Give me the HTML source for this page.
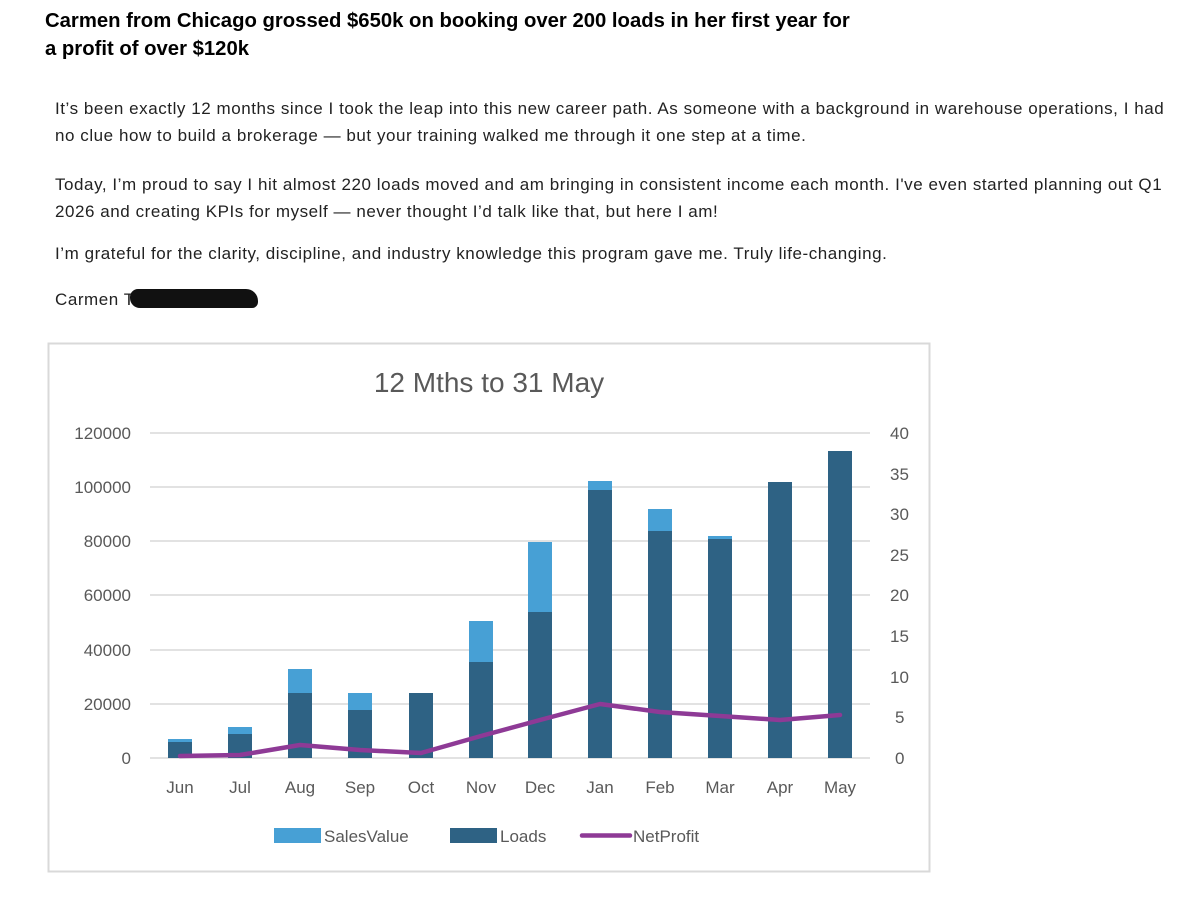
<!DOCTYPE html>
<html><head><meta charset="utf-8"><style>
body{margin:0;width:1200px;height:920px;background:#fff;font-family:"Liberation Sans",Arial,sans-serif;position:relative;overflow:hidden}
.h{position:absolute;left:45px;top:7px;font-weight:bold;font-size:20.3px;line-height:28px;color:#000}
.p{position:absolute;left:55px;font-size:17px;letter-spacing:0.55px;line-height:27px;color:#222;white-space:nowrap}
</style></head><body>
<div class="h">Carmen from Chicago grossed $650k on booking over 200 loads in her first year for<br>a profit of over $120k</div>
<div class="p" style="top:95px">It’s been exactly 12 months since I took the leap into this new career path. As someone with a background in warehouse operations, I had<br>no clue how to build a brokerage — but your training walked me through it one step at a time.</div>
<div class="p" style="top:171px">Today, I’m proud to say I hit almost 220 loads moved and am bringing in consistent income each month. I've even started planning out Q1<br>2026 and creating KPIs for myself — never thought I’d talk like that, but here I am!</div>
<div class="p" style="top:240px">I’m grateful for the clarity, discipline, and industry knowledge this program gave me. Truly life-changing.</div>
<div class="p" style="top:286px">Carmen T</div>
<div style="position:absolute;left:130px;top:289px;width:128px;height:19px;background:#111;border-radius:8px 12px 6px 10px"></div>
<svg style="position:absolute;left:0;top:0" width="1200" height="920" font-family="Liberation Sans, sans-serif">
<rect x="48.5" y="343.5" width="881" height="528" fill="#fff" stroke="#d9d9d9" stroke-width="2"/>
<text x="489" y="392" text-anchor="middle" font-size="28" fill="#595959">12 Mths to 31 May</text>
<g stroke="#d9d9d9" stroke-width="1.5">
<line x1="150" x2="870" y1="433" y2="433"/><line x1="150" x2="870" y1="487" y2="487"/><line x1="150" x2="870" y1="541" y2="541"/><line x1="150" x2="870" y1="595" y2="595"/><line x1="150" x2="870" y1="650" y2="650"/><line x1="150" x2="870" y1="704" y2="704"/><line x1="150" x2="870" y1="758" y2="758"/>
</g>
<g font-size="17" fill="#595959" text-anchor="end">
<text x="131" y="439">120000</text><text x="131" y="493">100000</text><text x="131" y="547">80000</text><text x="131" y="601">60000</text><text x="131" y="656">40000</text><text x="131" y="710">20000</text><text x="131" y="764">0</text>
</g>
<g font-size="17" fill="#595959" text-anchor="start">
<text x="890" y="439">40</text><text x="890" y="480">35</text><text x="890" y="520">30</text><text x="890" y="561">25</text><text x="890" y="601">20</text><text x="890" y="642">15</text><text x="890" y="683">10</text><text x="895" y="723">5</text><text x="895" y="764">0</text>
</g>
<g fill="#47a0d5">
<rect x="168" y="739" width="24" height="19"/><rect x="228" y="727" width="24" height="31"/><rect x="288" y="669" width="24" height="89"/><rect x="348" y="693" width="24" height="65"/><rect x="469" y="621" width="24" height="137"/><rect x="528" y="542" width="24" height="216"/><rect x="588" y="481" width="24" height="277"/><rect x="648" y="509" width="24" height="249"/><rect x="708" y="536" width="24" height="222"/>
</g>
<g fill="#2e6284">
<rect x="168" y="742" width="24" height="16"/><rect x="228" y="734" width="24" height="24"/><rect x="288" y="693" width="24" height="65"/><rect x="348" y="710" width="24" height="48"/><rect x="409" y="693" width="24" height="65"/><rect x="469" y="662" width="24" height="96"/><rect x="528" y="612" width="24" height="146"/><rect x="588" y="490" width="24" height="268"/><rect x="648" y="531" width="24" height="227"/><rect x="708" y="539" width="24" height="219"/><rect x="768" y="482" width="24" height="276"/><rect x="828" y="451" width="24" height="307"/>
</g>
<polyline points="180,756 240,755 300,745 360,750 421,753 481,736 540,720 600,704 660,712 720,716 780,720 840,715" fill="none" stroke="#8e3a96" stroke-width="4.5" stroke-linejoin="round" stroke-linecap="round"/>
<g font-size="17" fill="#595959" text-anchor="middle">
<text x="180" y="793">Jun</text><text x="240" y="793">Jul</text><text x="300" y="793">Aug</text><text x="360" y="793">Sep</text><text x="421" y="793">Oct</text><text x="481" y="793">Nov</text><text x="540" y="793">Dec</text><text x="600" y="793">Jan</text><text x="660" y="793">Feb</text><text x="720" y="793">Mar</text><text x="780" y="793">Apr</text><text x="840" y="793">May</text>
</g>
<rect x="274" y="828" width="47" height="15" fill="#47a0d5"/>
<text x="324" y="842" font-size="17" fill="#595959">SalesValue</text>
<rect x="450" y="828" width="47" height="15" fill="#2e6284"/>
<text x="500" y="842" font-size="17" fill="#595959">Loads</text>
<line x1="582" x2="630" y1="835.5" y2="835.5" stroke="#8e3a96" stroke-width="4.5" stroke-linecap="round"/>
<text x="633" y="842" font-size="17" fill="#595959">NetProfit</text>
</svg>
</body></html>
